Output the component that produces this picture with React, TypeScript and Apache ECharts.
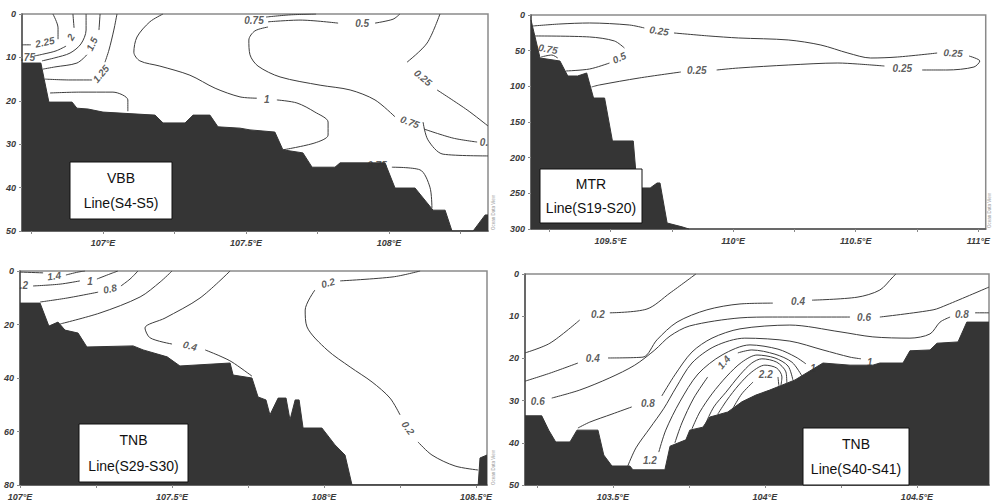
import React, { useEffect, useRef } from "react";
import * as echarts from "echarts";

// ---------- VBB Line (S4-S5) ----------
const VBB_LON_LABELS = [107, 107.5, 108];
const VBB_LON_TICKS = [106.75, 107, 107.25, 107.5, 107.75, 108, 108.25];
const VBB_BATHY = [
  [106.717, 11.3], [106.783, 11.3], [106.811, 20.3], [106.892, 20.3], [106.909, 21.7], [106.948, 21.9],
  [107.0, 22.6], [107.182, 23.3], [107.21, 25.1], [107.287, 25.1], [107.315, 23.3], [107.374, 23.3],
  [107.402, 26.0], [107.479, 26.3], [107.514, 26.7], [107.601, 27.2], [107.629, 31.3], [107.699, 32.0],
  [107.731, 35.3], [107.811, 35.3], [107.829, 34.3], [107.986, 34.3], [108.021, 40.1], [108.091, 40.1],
  [108.154, 45.2], [108.196, 45.2], [108.22, 50], [108.294, 50], [108.336, 46.3], [108.346, 46.3],
];
const VBB_CONTOURS = [
  [[106.717, 7.1], [106.748, 7.1]],
  [[106.843, 5.8], [106.843, 3.2], [106.825, 0]],
  [[106.895, 0], [106.899, 3.2]],
  [[106.871, 7.4], [106.836, 8.5], [106.794, 9.2], [106.759, 9.7]],
  [[106.941, 0], [106.941, 3.7], [106.923, 6.9], [106.885, 9.0], [106.832, 10.1], [106.787, 10.8]],
  [[106.99, 0], [106.986, 3.7]],
  [[106.944, 9.4], [106.909, 11.3], [106.832, 12.2], [106.79, 12.7]],
  [[107.049, 0], [107.038, 3.7], [107.021, 8.3], [107.007, 11.1]],
  [[106.962, 15.2], [106.885, 15.2], [106.797, 15.0]],
  [[106.815, 18.2], [106.92, 18.0], [107.035, 18.0], [107.087, 19.8], [107.087, 22.4]],
  [[107.21, 0], [107.164, 1.8], [107.119, 5.3], [107.108, 8.8], [107.129, 10.8], [107.199, 12.0], [107.304, 14.1], [107.392, 17.1], [107.479, 19.1], [107.538, 19.4]],
  [[107.608, 19.8], [107.678, 20.5], [107.741, 22.6], [107.787, 24.9], [107.787, 27.9], [107.741, 29.7], [107.629, 31.3]],
  [[107.57, 0.7], [107.654, 0.2], [107.745, 0]],
  [[107.577, 1.8], [107.689, 1.4], [107.822, 2.1]],
  [[107.951, 2.1], [108.014, 1.2], [108.038, 0]],
  [[107.577, 3.0], [107.531, 3.9], [107.51, 6.0], [107.514, 9.4], [107.542, 12.0], [107.619, 14.5], [107.759, 16.4], [107.864, 17.5], [107.951, 19.8], [108.021, 23.7]],
  [[108.119, 24.9], [108.136, 29.0], [108.189, 32.3], [108.346, 32.7]],
  [[108.122, 26.5], [108.224, 28.6], [108.308, 29.5]],
  [[108.178, 0], [108.133, 6.7], [108.063, 11.1]],
  [[108.168, 17.5], [108.273, 22.1], [108.346, 25.8]],
  [[108.01, 35.3], [108.108, 35.9], [108.143, 39.9], [108.15, 44.7]],
];
const VBB_LABELS = [
  [106.797, 6.5, "2.25", 12], [106.888, 5.3, "2", 60], [106.738, 10.1, ".75", 0],
  [106.962, 6.9, "1.5", 65], [106.993, 13.8, "1.25", 50], [107.573, 19.6, "1", 0],
  [107.528, 1.4, "0.75", 0], [107.906, 2.3, "0.5", 0], [108.073, 24.9, "0.75", -20],
  [108.332, 29.5, "0.", 0], [108.119, 14.7, "0.25", -40], [107.958, 35.0, "0.75", 0],
];

// ---------- MTR Line (S19-S20) ----------
const MTR_LON_LABELS = [109.5, 110, 110.5, 111];
const MTR_LON_TICKS = [109.25, 109.5, 109.75, 110, 110.25, 110.5, 110.75, 111];
const MTR_BATHY = [
  [109.176, 7.0], [109.213, 60.3], [109.294, 64.5], [109.326, 85.5], [109.366, 85.5], [109.403, 81.3],
  [109.431, 116.4], [109.476, 116.4], [109.508, 176.6], [109.593, 176.6], [109.609, 242.5], [109.662, 242.5],
  [109.69, 235.5], [109.702, 235.5], [109.731, 291.6], [109.792, 297], [109.82, 300],
];
const MTR_CONTOURS = [
  [[109.184, 15.4], [109.294, 12.6], [109.415, 11.2], [109.577, 14.0], [109.638, 18.2]],
  [[109.759, 25.2], [109.901, 29.4], [110.022, 32.2], [110.225, 35.0], [110.358, 42.1], [110.468, 53.3], [110.561, 60.3], [110.67, 58.9], [110.832, 53.3]],
  [[110.962, 57.5], [111.006, 64.5], [110.982, 72.9], [110.872, 77.1], [110.771, 77.1]],
  [[110.617, 71.5], [110.508, 68.7], [110.427, 67.3], [110.225, 70.1], [110.022, 74.3], [109.933, 77.1]],
  [[109.787, 79.9], [109.617, 88.3], [109.455, 98.1], [109.423, 100.9]],
  [[109.192, 29.4], [109.415, 30.8], [109.516, 36.4], [109.557, 46.3]],
  [[109.496, 67.3], [109.415, 75.7], [109.318, 78.5]],
  [[109.217, 58.9], [109.261, 56.1], [109.285, 60.3]],
];
const MTR_LABELS = [
  [109.698, 22.4, "0.25", -8], [110.897, 53.3, "0.25", -3], [110.69, 74.3, "0.25", 0],
  [109.852, 78.5, "0.25", 0], [109.536, 60.3, "0.5", 25], [109.245, 47.7, "0.75", -10],
];

// ---------- TNB Line (S29-S30) ----------
const TNB1_LON_LABELS = [107, 107.5, 108, 108.5];
const TNB1_LON_TICKS = [107, 107.25, 107.5, 107.75, 108, 108.25, 108.5];
const TNB1_BATHY = [
  [107.0, 12.0], [107.066, 12.0], [107.095, 20.6], [107.125, 19.1], [107.148, 22.1], [107.191, 23.2],
  [107.22, 28.4], [107.372, 28.0], [107.405, 29.5], [107.484, 32.1], [107.526, 35.5], [107.691, 34.4],
  [107.701, 38.9], [107.763, 40.0], [107.783, 47.1], [107.809, 48.2], [107.822, 53.8], [107.849, 47.5],
  [107.875, 47.5], [107.888, 55.7], [107.905, 48.2], [107.918, 48.2], [107.931, 58.7], [107.993, 58.7],
  [108.036, 65.0], [108.069, 68.8], [108.092, 80], [108.507, 80], [108.513, 69.9], [108.536, 68.8],
];
const TNB1_CONTOURS = [
  [[107.0, 0.4], [107.076, 0.7]],
  [[107.151, 1.5], [107.191, 0.4], [107.214, 0]],
  [[107.043, 5.6], [107.132, 4.9], [107.197, 3.7]],
  [[107.253, 3.0], [107.296, 1.1], [107.322, 0]],
  [[107.066, 11.6], [107.155, 10.1], [107.257, 7.9]],
  [[107.332, 5.6], [107.362, 3.0], [107.388, 0]],
  [[107.132, 19.8], [107.263, 15.7], [107.395, 9.7], [107.461, 4.1], [107.5, 0]],
  [[107.691, 0], [107.592, 10.1], [107.477, 17.6], [107.411, 21.3], [107.428, 25.0], [107.5, 27.3]],
  [[107.609, 29.5], [107.658, 31.8], [107.697, 34.0], [107.763, 39.3]],
  [[108.316, 0], [108.227, 2.2], [108.053, 3.7]],
  [[107.97, 7.1], [107.938, 14.6], [107.944, 20.9], [108.01, 29.5], [108.086, 35.9], [108.158, 41.5], [108.217, 47.5], [108.25, 53.8]],
  [[108.309, 63.9], [108.355, 68.8], [108.431, 72.9], [108.507, 74.4]],
];
const TNB1_LABELS = [
  [107.112, 1.9, "1.4", 8], [107.013, 5.6, ".2", 0], [107.23, 4.1, "1", 0],
  [107.296, 6.7, "0.8", 12], [107.559, 28.0, "0.4", -15], [108.013, 4.5, "0.2", 15],
  [108.276, 58.7, "0.2", -55],
];

// ---------- TNB Line (S40-S41) ----------
const TNB2_LON_LABELS = [103.5, 104, 104.5];
const TNB2_LON_TICKS = [103.25, 103.5, 103.75, 104, 104.25, 104.5];
const TNB2_BATHY = [
  [103.211, 33.6], [103.266, 33.6], [103.289, 37.0], [103.312, 39.8], [103.359, 39.8], [103.382, 37.0],
  [103.451, 37.0], [103.47, 42.9], [103.497, 45.5], [103.556, 45.5], [103.566, 46.4], [103.671, 46.4],
  [103.688, 40.8], [103.74, 39.3], [103.753, 37.0], [103.796, 36.3], [103.819, 33.9], [103.878, 32.7],
  [103.924, 30.3], [103.97, 28.7], [104.016, 27.5], [104.099, 25.1], [104.191, 21.1], [104.28, 21.6],
  [104.355, 21.6], [104.378, 21.1], [104.454, 21.1], [104.477, 18.2], [104.543, 18.0], [104.566, 16.4],
  [104.635, 16.1], [104.664, 11.4], [104.737, 11.4],
];
const TNB2_CONTOURS = [
  [[103.211, 18.7], [103.293, 16.4], [103.391, 10.9]],
  [[103.49, 9.2], [103.612, 8.3], [103.688, 4.5], [103.773, 0]],
  [[103.211, 25.4], [103.293, 23.5], [103.385, 21.1]],
  [[103.484, 19.9], [103.599, 19.7], [103.645, 15.6], [103.711, 11.4], [103.809, 8.5], [103.918, 7.1], [104.026, 6.9]],
  [[104.155, 6.2], [104.303, 5.5], [104.378, 3.8], [104.421, 0.7], [104.431, 0]],
  [[103.299, 29.4], [103.391, 27.5], [103.49, 24.6], [103.572, 21.6], [103.638, 18.0], [103.688, 14.7], [103.753, 12.3], [103.918, 10.4], [104.026, 10.2], [104.28, 10.2]],
  [[104.378, 10.2], [104.553, 8.5], [104.599, 7.3], [104.737, 3.1]],
  [[103.385, 36.5], [103.424, 35.1], [103.497, 33.2], [103.562, 31.5]],
  [[103.661, 28.9], [103.704, 23.9], [103.76, 18.5], [103.826, 15.2], [103.918, 13.0], [104.082, 12.1], [104.247, 13.7], [104.355, 14.9], [104.477, 15.2], [104.543, 14.2], [104.576, 11.4], [104.609, 10.2]],
  [[104.691, 9.2], [104.737, 9.2]],
  [[103.549, 45.5], [103.576, 41.2], [103.622, 36.5], [103.668, 31.8], [103.707, 27.0], [103.76, 21.1], [103.836, 17.1], [103.934, 15.2], [104.082, 15.9], [104.191, 18.0], [104.28, 19.7], [104.316, 20.1]],
  [[103.651, 42.2], [103.674, 37.0], [103.72, 30.3], [103.78, 23.7], [103.859, 19.2], [103.951, 16.8], [104.043, 17.8], [104.102, 19.7], [104.135, 21.3]],
  [[103.704, 40.0], [103.727, 35.3], [103.766, 29.4], [103.812, 24.4]],
  [[103.911, 18.7], [103.957, 18.0], [104.033, 19.0], [104.089, 20.9], [104.122, 24.2]],
  [[103.76, 36.7], [103.786, 32.7], [103.826, 28.4], [103.875, 24.2], [103.924, 20.9], [103.974, 19.2], [104.033, 19.9], [104.076, 21.8], [104.092, 25.1]],
  [[103.806, 35.3], [103.832, 31.5], [103.872, 28.0], [103.918, 23.9], [103.957, 21.1], [103.99, 20.1], [104.039, 20.9], [104.069, 23.2], [104.072, 25.8]],
  [[103.845, 33.2], [103.875, 29.9], [103.914, 26.3], [103.957, 23.2], [104.0, 21.6], [104.039, 22.3], [104.056, 24.4], [104.053, 26.3]],
  [[103.895, 31.8], [103.924, 28.4], [103.961, 25.6]],
  [[104.043, 24.4], [104.046, 26.5]],
];
const TNB2_LABELS = [
  [103.451, 9.5, "0.2", 0], [103.434, 20.1, "0.4", 0], [104.109, 6.6, "0.4", 0],
  [103.253, 30.1, "0.6", 0], [104.326, 10.4, "0.6", 0], [103.615, 30.6, "0.8", 0],
  [104.648, 9.5, "0.8", 0], [104.345, 20.9, "1", 0], [103.622, 44.3, "1.2", 0],
  [104.158, 22.3, "1", 0], [103.865, 20.9, "1.4", 50], [104.003, 23.9, "2.2", 0],
];

const FONT = "'Liberation Sans', Arial, sans-serif";

const PANELS = [
  { grid: { left: 22, top: 14, width: 466, height: 217 }, lon: [106.717, 108.346], depth: [50, 10],
    lonLabels: VBB_LON_LABELS, lonTicks: VBB_LON_TICKS, bathy: VBB_BATHY, contours: VBB_CONTOURS, labels: VBB_LABELS,
    box: { x: 70, y: 162, w: 102, h: 57, t1: "VBB", t2: "Line(S4-S5)" }, odv: [491, 230] },
  { grid: { left: 531, top: 15, width: 457, height: 214 }, lon: [109.176, 111.03], depth: [300, 50],
    lonLabels: MTR_LON_LABELS, lonTicks: MTR_LON_TICKS, bathy: MTR_BATHY, contours: MTR_CONTOURS, labels: MTR_LABELS,
    box: { x: 540, y: 169, w: 102, h: 54, t1: "MTR", t2: "Line(S19-S20)" }, odv: [987, 228] },
  { grid: { left: 20, top: 271, width: 467, height: 214 }, lon: [107, 108.536], depth: [80, 20],
    lonLabels: TNB1_LON_LABELS, lonTicks: TNB1_LON_TICKS, bathy: TNB1_BATHY, contours: TNB1_CONTOURS, labels: TNB1_LABELS,
    box: { x: 79, y: 424, w: 109, h: 58, t1: "TNB", t2: "Line(S29-S30)" }, odv: [491, 485] },
  { grid: { left: 525, top: 274, width: 464, height: 211 }, lon: [103.211, 104.737], depth: [50, 10],
    lonLabels: TNB2_LON_LABELS, lonTicks: TNB2_LON_TICKS, bathy: TNB2_BATHY, contours: TNB2_CONTOURS, labels: TNB2_LABELS,
    box: { x: 803, y: 428, w: 106, h: 57, t1: "TNB", t2: "Line(S40-S41)" }, odv: null },
];

export default function App() {
  const ref = useRef<HTMLDivElement>(null);
  useEffect(() => {
    document.body.style.margin = "0";
    const chart = echarts.init(ref.current as HTMLDivElement, null, { renderer: "svg" });
    const axisLabelStyle = { fontSize: 9, fontWeight: "bold", fontStyle: "italic", color: "#3a3a3a", fontFamily: FONT };
    const grids: any[] = [];
    const xAxes: any[] = [];
    const yAxes: any[] = [];
    const series: any[] = [];
    const elements: any[] = [];
    PANELS.forEach((p, i) => {
      grids.push({ ...p.grid, show: true, borderColor: "#8a8a8a", borderWidth: 1.5, backgroundColor: "#fff", containLabel: false });
      xAxes.push({
        type: "value", gridIndex: i, min: p.lon[0], max: p.lon[1], position: "bottom",
        axisLine: { show: true, onZero: false, lineStyle: { color: "#555", width: 1.5 } },
        axisTick: { show: true, customValues: p.lonTicks, length: 3, lineStyle: { color: "#888" } },
        axisLabel: { ...axisLabelStyle, customValues: p.lonLabels, margin: 7, formatter: (v: number) => `${v}°E` },
        splitLine: { show: false },
      });
      yAxes.push({
        type: "value", gridIndex: i, inverse: true, min: 0, max: p.depth[0], interval: p.depth[1],
        axisLine: { show: true, onZero: false, lineStyle: { color: "#555", width: 1.5 } },
        axisTick: { show: true, length: 3, lineStyle: { color: "#888" } },
        axisLabel: { ...axisLabelStyle, margin: 6 },
        splitLine: { show: false },
      });
      p.contours.forEach((seg) => {
        series.push({
          type: "line", xAxisIndex: i, yAxisIndex: i, data: seg, smooth: 0.3, symbol: "none",
          lineStyle: { color: "#3c3c3c", width: 1 }, z: 2, silent: true,
        });
      });
      series.push({
        type: "line", xAxisIndex: i, yAxisIndex: i, data: p.bathy, symbol: "none", silent: true,
        lineStyle: { color: "#353535", width: 1 }, areaStyle: { color: "#353535", opacity: 1, origin: "end" }, z: 3,
      });
      series.push({
        type: "scatter", xAxisIndex: i, yAxisIndex: i, symbolSize: 1, silent: true,
        itemStyle: { color: "rgba(0,0,0,0)" }, z: 4,
        data: p.labels.map((l) => ({ value: [l[0], l[1]], name: l[2], label: { rotate: l[3] } })),
        label: { show: true, position: "inside", formatter: (q: any) => q.name, fontSize: 10, fontWeight: "bold", fontStyle: "italic", color: "#333", fontFamily: FONT },
      });
      const b = p.box;
      elements.push({
        type: "rect", z: 100, x: b.x, y: b.y,
        shape: { x: 0, y: 0, width: b.w, height: b.h },
        style: { fill: "#ffffff", stroke: "#111111", lineWidth: 1 },
      });
      elements.push({
        type: "text", z: 101, x: b.x + b.w / 2, y: b.y + b.h * 0.28,
        style: { text: b.t1, textAlign: "center", textVerticalAlign: "middle", fontSize: 14, fontFamily: FONT, fill: "#111" },
      });
      elements.push({
        type: "text", z: 101, x: b.x + b.w / 2, y: b.y + b.h * 0.72,
        style: { text: b.t2, textAlign: "center", textVerticalAlign: "middle", fontSize: 14, fontFamily: FONT, fill: "#111" },
      });
      if (p.odv) {
        elements.push({ type: "text", z: 100, x: p.odv[0], y: p.odv[1], rotation: Math.PI / 2,
          style: { text: "Ocean Data View", fontSize: 4.5, fontFamily: FONT, fill: "#999" } });
      }
    });
    chart.setOption({
      animation: false,
      backgroundColor: "#fff",
      grid: grids,
      xAxis: xAxes,
      yAxis: yAxes,
      series,
      graphic: { elements },
    });
    return () => chart.dispose();
  }, []);
  return <div ref={ref} style={{ position: "absolute", left: 0, top: 0, width: 993, height: 504 }} />;
}
